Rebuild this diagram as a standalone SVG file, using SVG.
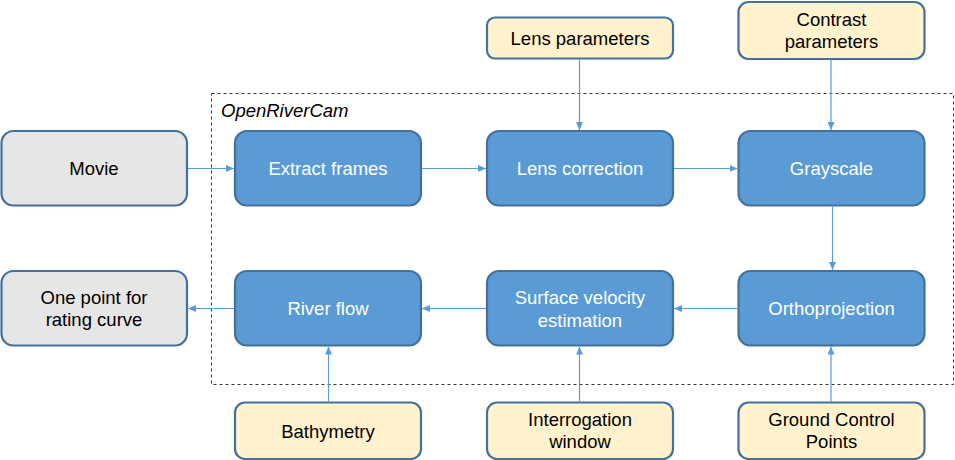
<svg xmlns="http://www.w3.org/2000/svg" width="955" height="460" viewBox="0 0 955 460">
<style>
.n rect{stroke:#41719c;stroke-width:2.2}
.blue rect{fill:#5b9bd5}
.gray rect{fill:#e7e6e6}
.yel rect{fill:#fff2cc}
text{font-family:"Liberation Sans",Arial,sans-serif;font-size:18.5px;text-anchor:middle}
.blue text{fill:#ffffff}
.gray text,.yel text{fill:#000000}
.c line{stroke:#5b9bd5;stroke-width:1.2;marker-end:url(#ah)}
</style>
<defs>
<marker id="ah" markerWidth="8" markerHeight="7" refX="8" refY="3.5" orient="auto" markerUnits="userSpaceOnUse">
<path d="M0,0 L8,3.5 L0,7 Z" fill="#5b9bd5"/>
</marker>
</defs>
<rect x="211.5" y="93.5" width="742" height="291" fill="none" stroke="#333" stroke-width="1" stroke-dasharray="3,3"/>
<text x="221" y="116.5" style="font-style:italic;font-size:18.5px;text-anchor:start;fill:#000">OpenRiverCam</text>

<g id="movie" class="n gray"><rect x="1.5" y="131" width="185.5" height="74.5" rx="12"/><text x="94" y="174.5">Movie</text></g>
<g id="extract" class="n blue"><rect x="235" y="131" width="186" height="74.5" rx="12"/><text x="328" y="174.5">Extract frames</text></g>
<g id="lenscorr" class="n blue"><rect x="487" y="131" width="186" height="74.5" rx="12"/><text x="580" y="174.5">Lens correction</text></g>
<g id="gray" class="n blue"><rect x="738.5" y="131" width="186" height="74.5" rx="12"/><text x="831.5" y="174.5">Grayscale</text></g>
<g id="lensparam" class="n yel"><rect x="487" y="17.5" width="186" height="41" rx="8"/><text x="580" y="44.5">Lens parameters</text></g>
<g id="contrast" class="n yel"><rect x="738.5" y="2" width="186" height="57" rx="10"/><text x="831.5" y="26">Contrast</text><text x="831.5" y="48">parameters</text></g>

<g id="onepoint" class="n gray"><rect x="1.5" y="271" width="185.5" height="74.5" rx="12"/><text x="94" y="304">One point for</text><text x="94" y="326">rating curve</text></g>
<g id="river" class="n blue"><rect x="235" y="271" width="186" height="74.5" rx="12"/><text x="328" y="315">River flow</text></g>
<g id="surface" class="n blue"><rect x="487" y="271" width="186" height="74.5" rx="12"/><text x="580" y="304">Surface velocity</text><text x="580" y="326.5">estimation</text></g>
<g id="ortho" class="n blue"><rect x="738.5" y="271" width="186" height="74.5" rx="12"/><text x="831.5" y="315">Orthoprojection</text></g>
<g id="bathy" class="n yel"><rect x="235" y="402.5" width="186" height="56.5" rx="10"/><text x="328" y="438">Bathymetry</text></g>
<g id="interrog" class="n yel"><rect x="487" y="402.5" width="186" height="56.5" rx="10"/><text x="580" y="426">Interrogation</text><text x="580" y="448.3">window</text></g>
<g id="gcp" class="n yel"><rect x="738.5" y="402.5" width="186" height="56.5" rx="10"/><text x="831.5" y="426">Ground Control</text><text x="831.5" y="448.3">Points</text></g>

<g id="connectors" class="c">
<line x1="188" y1="168.5" x2="234" y2="168.5"/>
<line x1="422" y1="168.5" x2="486" y2="168.5"/>
<line x1="674" y1="168.5" x2="737.5" y2="168.5"/>
<line x1="579.5" y1="59.5" x2="579.5" y2="130"/>
<line x1="831" y1="59.5" x2="831" y2="130"/>
<line x1="832.5" y1="206.5" x2="832.5" y2="270"/>
<line x1="737.5" y1="308.5" x2="674" y2="308.5"/>
<line x1="486" y1="308.5" x2="422" y2="308.5"/>
<line x1="234" y1="308.5" x2="188" y2="308.5"/>
<line x1="328.5" y1="401.5" x2="328.5" y2="346.5"/>
<line x1="579.5" y1="401.5" x2="579.5" y2="346.5"/>
<line x1="831" y1="401.5" x2="831" y2="346.5"/>
</g>
</svg>
